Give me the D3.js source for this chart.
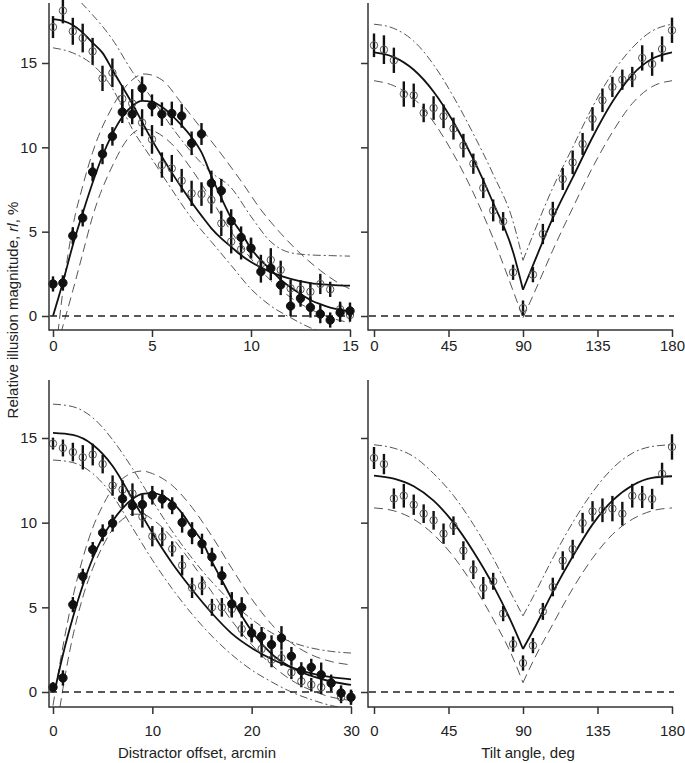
<!DOCTYPE html>
<html>
<head>
<meta charset="utf-8">
<script src="https://cdn.jsdelivr.net/npm/d3@7"></script>
<style>
  body { margin: 0; background: #fff; }
  svg text { font-family: "Liberation Sans", Arial, sans-serif; fill: #222; }
</style>
</head>
<body>
<svg id="chart" width="685" height="763"></svg>
<script>
// ---- data ----
const offsetA = [0, 0.5, 1, 1.5, 2, 2.5, 3, 3.5, 4, 4.5, 5, 5.5, 6, 6.5, 7, 7.5, 8, 8.5, 9, 9.5, 10, 10.5, 11, 11.5, 12, 12.5, 13, 13.5, 14, 14.5, 15];
const offsetB = [0, 1, 2, 3, 4, 5, 6, 7, 8, 9, 10, 11, 12, 13, 14, 15, 16, 17, 18, 19, 20, 21, 22, 23, 24, 25, 26, 27, 28, 29, 30];
const tilt = [0, 6, 12, 18, 24, 30, 36, 42, 48, 54, 60, 66, 72, 78, 84, 90, 96, 102, 108, 114, 120, 126, 132, 138, 144, 150, 156, 162, 168, 174, 180];

// top left
const aOpen = [17.13, 18.1, 16.88, 16.48, 15.69, 14.09, 14.42, 12.88, 12.6, 11.46, 10.47, 8.95, 8.75, 8.02, 7.27, 7.23, 6.88, 5.49, 4.41, 3.95, 4.05, 3.08, 3.32, 2.73, 1.64, 1.58, 1.44, 1.9, 1.58, 0.4, 0.06];
const aOpenErr = [0.65, 0.75, 0.8, 0.85, 0.8, 0.75, 0.85, 0.8, 0.85, 0.8, 0.85, 0.75, 0.8, 0.7, 0.75, 0.7, 0.8, 0.75, 0.7, 0.6, 0.6, 0.55, 0.7, 0.55, 0.5, 0.55, 0.55, 0.6, 0.45, 0.45, 0.4];
const aFilled = [1.9, 1.96, 4.76, 5.81, 8.54, 9.6, 10.65, 12.09, 11.97, 13.5, 12.49, 11.97, 12.01, 11.86, 10.24, 10.79, 7.87, 7.43, 5.63, 4.66, 4.01, 2.63, 2.83, 1.84, 0.59, 1.05, 0.51, 0.12, -0.24, 0.2, 0.3];
const aFilledErr = [0.45, 0.45, 0.5, 0.5, 0.55, 0.6, 0.55, 0.65, 0.6, 0.7, 0.65, 0.7, 0.7, 0.7, 0.7, 0.65, 0.75, 0.7, 0.7, 0.65, 0.6, 0.65, 0.7, 0.6, 0.6, 0.5, 0.6, 0.55, 0.45, 0.55, 0.5];
const aOpenFitX = [0, 0.5, 1, 1.5, 2, 2.5, 3, 3.5, 4, 4.5, 5, 5.5, 6, 6.5, 7, 7.5, 8, 8.5, 9, 9.5, 10, 11, 12, 13, 14, 15];
const aOpenFit = [17.6, 17.5, 17.25, 16.8, 16.2, 15.6, 14.6, 13.6, 12.6, 11.5, 10.43, 9.45, 8.5, 7.6, 6.75, 5.95, 5.2, 4.6, 4.1, 3.6, 3.2, 2.6, 2.2, 1.95, 1.85, 1.8];
const aFilledFitX = [0, 0.5, 1, 1.5, 2, 2.5, 3, 3.5, 4, 4.5, 5, 5.5, 6, 6.5, 7, 7.5, 8, 8.5, 9, 9.5, 10, 10.5, 11, 11.5, 12, 12.5, 13, 13.5, 14, 14.5, 15];
const aFilledFit = [0, 2.0, 4.2, 6.1, 7.9, 9.5, 10.8, 11.8, 12.45, 12.75, 12.7, 12.4, 11.9, 11.3, 10.6, 9.7, 8.3, 7.0, 5.8, 4.95, 4.0, 3.3, 2.75, 2.15, 1.7, 1.3, 0.95, 0.7, 0.5, 0.37, 0.28];
const aBandX = [0, 1, 2, 3, 4, 5, 6, 7, 8, 9, 10, 11, 12, 13, 14, 15];
const aOpenUp = [19.4, 19.0, 17.85, 16.4, 14.5, 12.9, 11.2, 9.7, 8.5, 7.6, 5.9, 4.4, 3.75, 3.62, 3.58, 3.55];
const aOpenLo = [15.9, 15.6, 14.9, 13.5, 11.1, 9.3, 7.5, 5.8, 4.4, 3.0, 1.6, 0.6, -0.1, -0.7, -1.1, -1.4];
const aFilledUpX = [0.25, 0.5, 1, 1.5, 2, 3, 4, 4.6, 5.5, 6.5, 7.5, 8.5, 9.5, 10.5, 11.5, 12.5, 13.5, 14.5, 15];
const aFilledUp = [-1.0, 1.5, 5.3, 7.7, 9.7, 12.4, 14.0, 14.35, 14.0, 12.6, 11.1, 9.6, 8.0, 6.3, 4.9, 3.7, 2.7, 1.9, 1.6];
const aFilledLoX = [0.4, 1, 1.5, 2, 3, 4, 4.5, 5, 6, 7, 8, 9, 10, 11, 12, 13, 14, 15];
const aFilledLo = [-1.0, 1.5, 3.7, 5.9, 8.9, 10.8, 11.1, 11.0, 10.2, 8.7, 6.9, 5.0, 3.4, 2.1, 1.1, 0.4, -0.1, -0.4];

// top right
const cOpen = [16.05, 15.79, 15.16, 13.16, 13.08, 12.04, 12.33, 11.84, 11.11, 10.1, 9.03, 7.59, 6.26, 5.61, 2.59, 0.47, 2.45, 4.86, 6.17, 8.12, 9.11, 10.2, 11.68, 12.79, 13.58, 14.01, 14.17, 15.3, 14.94, 15.83, 16.94];
const cOpenErr = [0.7, 0.85, 0.75, 0.75, 0.7, 0.55, 0.7, 0.7, 0.65, 0.7, 0.6, 0.6, 0.65, 0.55, 0.45, 0.45, 0.45, 0.6, 0.6, 0.65, 0.7, 0.65, 0.7, 0.7, 0.6, 0.6, 0.6, 0.75, 0.7, 0.75, 0.75];
const tiltFitX = [0, 12, 24, 36, 48, 60, 72, 84, 90, 96, 108, 120, 132, 144, 156, 168, 180];
const cFit = [15.63, 15.35, 14.6, 13.3, 11.5, 9.3, 6.7, 3.8, 1.56, 3.0, 5.8, 8.2, 10.6, 12.7, 14.3, 15.25, 15.63];
const cUp = [17.3, 17.05, 16.3, 14.9, 13.0, 10.8, 8.4, 5.6, 3.3, 4.8, 7.6, 10.0, 12.4, 14.4, 15.9, 16.9, 17.3];
const cLo = [13.95, 13.65, 12.9, 11.5, 9.6, 7.3, 4.6, 1.5, -0.1, 1.2, 3.9, 6.4, 8.8, 10.9, 12.6, 13.6, 13.95];

// bottom left
const bOpen = [14.67, 14.41, 14.17, 13.86, 14.02, 13.46, 12.19, 11.95, 11.72, 10.35, 9.2, 9.16, 8.45, 7.48, 6.15, 6.27, 5.0, 5.0, 4.9, 3.72, 3.44, 2.54, 1.91, 2.0, 1.16, 0.63, 0.43, 0.28, 0.5, -0.31, -0.3];
const bOpenErr = [0.35, 0.5, 0.55, 0.72, 0.64, 0.55, 0.6, 0.55, 0.6, 0.64, 0.6, 0.55, 0.45, 0.6, 0.6, 0.55, 0.5, 0.55, 0.5, 0.45, 0.4, 0.5, 0.45, 0.45, 0.4, 0.35, 0.4, 0.4, 0.4, 0.35, 0.35];
const bFilled = [0.28, 0.83, 5.16, 6.83, 8.41, 9.4, 9.97, 11.41, 11.0, 11.07, 11.62, 11.39, 11.0, 10.01, 9.38, 8.75, 7.97, 6.87, 5.2, 5.0, 3.48, 3.29, 2.8, 3.19, 2.11, 1.26, 1.46, 1.02, 0.53, -0.06, -0.31];
const bFilledErr = [0.3, 0.45, 0.45, 0.45, 0.45, 0.5, 0.5, 0.55, 0.6, 0.6, 0.55, 0.55, 0.5, 0.6, 0.65, 0.6, 0.55, 0.55, 0.7, 0.6, 0.55, 0.55, 0.55, 0.7, 0.55, 0.5, 0.5, 0.72, 0.5, 0.45, 0.45];
const bOpenFitX = [0, 2, 4, 6, 8, 10, 12, 14, 16, 18, 20, 22, 24, 26, 28, 30];
const bOpenFit = [15.3, 15.18, 14.6, 13.35, 11.4, 9.4, 7.6, 6.05, 4.65, 3.45, 2.6, 1.95, 1.45, 1.1, 0.88, 0.75];
const bFilledFitX = [0.15, 1, 2, 3, 4, 5, 6, 7, 8, 9, 10, 11, 12, 13, 14, 15, 16, 17, 18, 19, 20, 22, 24, 26, 28, 30];
const bFilledFit = [0, 2.2, 4.4, 6.3, 7.9, 9.15, 10.1, 10.85, 11.4, 11.7, 11.75, 11.6, 11.2, 10.55, 9.7, 8.9, 7.7, 6.6, 5.5, 4.5, 3.6, 2.25, 1.45, 0.95, 0.62, 0.42];
const bOpenUp = [17.0, 16.85, 16.2, 14.9, 13.2, 11.3, 9.5, 7.9, 6.5, 5.3, 4.3, 3.5, 2.95, 2.6, 2.4, 2.3];
const bOpenLo = [13.7, 13.55, 12.9, 11.6, 9.7, 7.8, 6.1, 4.6, 3.3, 2.2, 1.3, 0.6, 0.0, -0.45, -0.8, -1.0];
const bFilledUpX = [0, 1, 2, 3, 4, 5, 6, 7, 8, 9, 10, 12, 14, 16, 18, 20, 22, 24, 26, 28, 30];
const bFilledUp = [-0.8, 2.7, 5.6, 7.9, 9.7, 11.0, 12.0, 12.6, 12.95, 13.05, 12.9, 12.2, 10.9, 9.2, 7.3, 5.5, 4.0, 2.9, 2.2, 1.8, 1.6];
const bFilledLoX = [0.7, 1, 2, 3, 4, 5, 6, 7, 8, 9, 10, 12, 14, 16, 18, 20, 22, 24, 26, 28, 30];
const bFilledLo = [-0.9, 0.2, 3.3, 5.6, 7.3, 8.6, 9.6, 10.2, 10.5, 10.5, 10.2, 9.1, 7.6, 5.9, 4.2, 2.8, 1.6, 0.7, 0.1, -0.3, -0.5];

// bottom right
const dOpen = [13.82, 13.46, 11.42, 11.59, 11.06, 10.53, 10.14, 9.35, 9.82, 8.35, 7.22, 6.14, 6.54, 4.63, 2.83, 1.71, 2.74, 4.76, 6.2, 7.76, 8.44, 9.98, 10.67, 10.73, 10.83, 10.53, 11.59, 11.52, 11.4, 12.89, 14.47];
const dOpenErr = [0.65, 0.6, 0.6, 0.7, 0.6, 0.55, 0.55, 0.6, 0.55, 0.55, 0.55, 0.65, 0.5, 0.45, 0.45, 0.45, 0.45, 0.5, 0.55, 0.55, 0.55, 0.6, 0.6, 0.7, 0.75, 0.7, 0.7, 0.65, 0.6, 0.65, 0.75];
const dFit = [12.78, 12.6, 12.15, 11.3, 10.0, 8.3, 6.3, 3.9, 2.54, 3.6, 5.9, 8.0, 9.9, 11.3, 12.2, 12.65, 12.74];
const dUp = [14.6, 14.4, 13.9, 12.9, 11.6, 9.9, 7.9, 5.6, 4.5, 5.6, 7.9, 10.0, 11.8, 13.2, 14.1, 14.5, 14.6];
const dLo = [10.87, 10.7, 10.2, 9.3, 8.0, 6.3, 4.3, 2.0, 0.55, 1.8, 4.0, 6.1, 7.9, 9.3, 10.2, 10.7, 10.87];

const yTicks = [0, 5, 10, 15];

// ---- drawing ----
const svg = d3.select("#chart");
const zip = (xs, ys) => xs.map((v, i) => [v, ys[i]]);
const DASH = "9,5";
const DASHDOT = "8,3,2,3";

function drawPanel(p) {
  const x = d3.scaleLinear().domain(p.xDomain).range(p.xRange);
  const y = d3.scaleLinear().domain([0, 15]).range(p.yRange);
  const xEnd = p.xRange[1] + 2;

  svg.append("clipPath").attr("id", "clip" + p.id)
     .append("rect")
     .attr("x", p.axisX).attr("y", p.top)
     .attr("width", xEnd - p.axisX).attr("height", p.axisY - p.top);

  const g = svg.append("g");
  const plot = g.append("g").attr("clip-path", `url(#clip${p.id})`);

  const line = d3.line()
    .x(d => x(d[0])).y(d => y(d[1]))
    .curve(d3.curveMonotoneX);

  // split V-shaped series at the vertex so the tip stays sharp
  function pieces(xs, ys) {
    if (p.vertex === undefined) return [zip(xs, ys)];
    const k = xs.indexOf(p.vertex);
    return [zip(xs.slice(0, k + 1), ys.slice(0, k + 1)), zip(xs.slice(k), ys.slice(k))];
  }

  p.bands.forEach(b => {
    pieces(b.x, b.y).forEach(seg => {
      plot.append("path")
        .attr("d", line(seg))
        .attr("fill", "none")
        .attr("stroke", "#555")
        .attr("stroke-width", 1)
        .attr("stroke-dasharray", b.dash);
    });
  });

  p.fits.forEach(f => {
    pieces(f.x, f.y).forEach(seg => {
      plot.append("path")
        .attr("d", line(seg))
        .attr("fill", "none")
        .attr("stroke", "#111")
        .attr("stroke-width", 1.8);
    });
  });

  // zero reference
  g.append("line")
    .attr("x1", p.axisX + 1).attr("x2", xEnd)
    .attr("y1", y(0)).attr("y2", y(0))
    .attr("stroke", "#222").attr("stroke-width", 1.6)
    .attr("stroke-dasharray", "7,5");

  p.series.forEach(s => {
    const pts = s.x.map((v, i) => ({ x: v, y: s.y[i], e: s.err[i] }));
    g.append("g").selectAll("line")
      .data(pts).enter().append("line")
      .attr("x1", d => x(d.x)).attr("x2", d => x(d.x))
      .attr("y1", d => y(d.y - d.e)).attr("y2", d => y(d.y + d.e))
      .attr("stroke", "#111").attr("stroke-width", 2.4);
    g.append("g").selectAll("circle")
      .data(pts).enter().append("circle")
      .attr("cx", d => x(d.x)).attr("cy", d => y(d.y))
      .attr("r", s.filled ? 4.2 : 3.7)
      .attr("fill", s.filled ? "#111" : "none")
      .attr("stroke", s.filled ? "#111" : "#555")
      .attr("stroke-width", 1);
  });

  // axes
  const xAxis = g.append("g")
    .attr("transform", `translate(0,${p.axisY})`)
    .call(d3.axisBottom(x).tickValues(p.xTicks).tickSize(7).tickPadding(p.xPad).tickSizeOuter(0));
  const yAxis = g.append("g")
    .attr("transform", `translate(${p.axisX},0)`)
    .call(d3.axisLeft(y).tickValues(yTicks).tickSize(7).tickPadding(5)
      .tickFormat(p.yLabels ? d3.format("d") : () => ""));
  [xAxis, yAxis].forEach(a => {
    a.select(".domain").remove();
    a.selectAll(".tick line").attr("stroke", "#333").attr("stroke-width", 1.5);
    a.selectAll(".tick text").attr("font-size", 15).attr("fill", "#222");
  });
  g.append("line")
    .attr("x1", p.axisX).attr("x2", p.xRange[1] + 1)
    .attr("y1", p.axisY).attr("y2", p.axisY)
    .attr("stroke", "#333").attr("stroke-width", 1.5);
  g.append("line")
    .attr("x1", p.axisX).attr("x2", p.axisX)
    .attr("y1", p.top).attr("y2", p.axisY + 0.75)
    .attr("stroke", "#333").attr("stroke-width", 1.5);

  if (p.title) {
    g.append("text")
      .attr("x", p.title.x).attr("y", 758)
      .attr("text-anchor", "middle")
      .attr("font-size", 15)
      .text(p.title.text);
  }
}

drawPanel({
  id: "A", xDomain: [0, 15], xRange: [53, 350], yRange: [316, 63],
  axisX: 49, axisY: 330, top: 3, xTicks: [0, 5, 10, 15], yLabels: true, xPad: 3,
  bands: [
    { x: aBandX, y: aOpenUp, dash: DASHDOT },
    { x: aBandX, y: aOpenLo, dash: DASHDOT },
    { x: aFilledUpX, y: aFilledUp, dash: DASH },
    { x: aFilledLoX, y: aFilledLo, dash: DASH }
  ],
  fits: [
    { x: aOpenFitX, y: aOpenFit },
    { x: aFilledFitX, y: aFilledFit }
  ],
  series: [
    { x: offsetA, y: aOpen, err: aOpenErr, filled: false },
    { x: offsetA, y: aFilled, err: aFilledErr, filled: true }
  ]
});

drawPanel({
  id: "C", xDomain: [0, 180], xRange: [374, 672], yRange: [316, 63],
  axisX: 368, axisY: 330, top: 3, xTicks: [0, 45, 90, 135, 180], yLabels: false, xPad: 3,
  vertex: 90,
  bands: [
    { x: tiltFitX, y: cUp, dash: DASHDOT },
    { x: tiltFitX, y: cLo, dash: DASH }
  ],
  fits: [{ x: tiltFitX, y: cFit }],
  series: [{ x: tilt, y: cOpen, err: cOpenErr, filled: false }]
});

drawPanel({
  id: "B", xDomain: [0, 30], xRange: [53, 351], yRange: [692, 438],
  axisX: 49, axisY: 707, top: 380, xTicks: [0, 10, 20, 30], yLabels: true, xPad: 11,
  title: { x: 197, text: "Distractor offset, arcmin" },
  bands: [
    { x: bOpenFitX, y: bOpenUp, dash: DASHDOT },
    { x: bOpenFitX, y: bOpenLo, dash: DASHDOT },
    { x: bFilledUpX, y: bFilledUp, dash: DASH },
    { x: bFilledLoX, y: bFilledLo, dash: DASH }
  ],
  fits: [
    { x: bOpenFitX, y: bOpenFit },
    { x: bFilledFitX, y: bFilledFit }
  ],
  series: [
    { x: offsetB, y: bOpen, err: bOpenErr, filled: false },
    { x: offsetB, y: bFilled, err: bFilledErr, filled: true }
  ]
});

drawPanel({
  id: "D", xDomain: [0, 180], xRange: [374, 672], yRange: [692, 438],
  axisX: 368, axisY: 707, top: 380, xTicks: [0, 45, 90, 135, 180], yLabels: false, xPad: 11,
  vertex: 90,
  title: { x: 528, text: "Tilt angle, deg" },
  bands: [
    { x: tiltFitX, y: dUp, dash: DASHDOT },
    { x: tiltFitX, y: dLo, dash: DASH }
  ],
  fits: [{ x: tiltFitX, y: dFit }],
  series: [{ x: tilt, y: dOpen, err: dOpenErr, filled: false }]
});

// shared y title
const yt = svg.append("text")
  .attr("transform", "translate(13,310) rotate(-90)")
  .attr("text-anchor", "middle")
  .attr("dy", "0.35em")
  .attr("font-size", 15);
yt.append("tspan").text("Relative illusion magnitude, ");
yt.append("tspan").attr("font-style", "italic").text("rl");
yt.append("tspan").text(", %");
</script>
</body>
</html>
